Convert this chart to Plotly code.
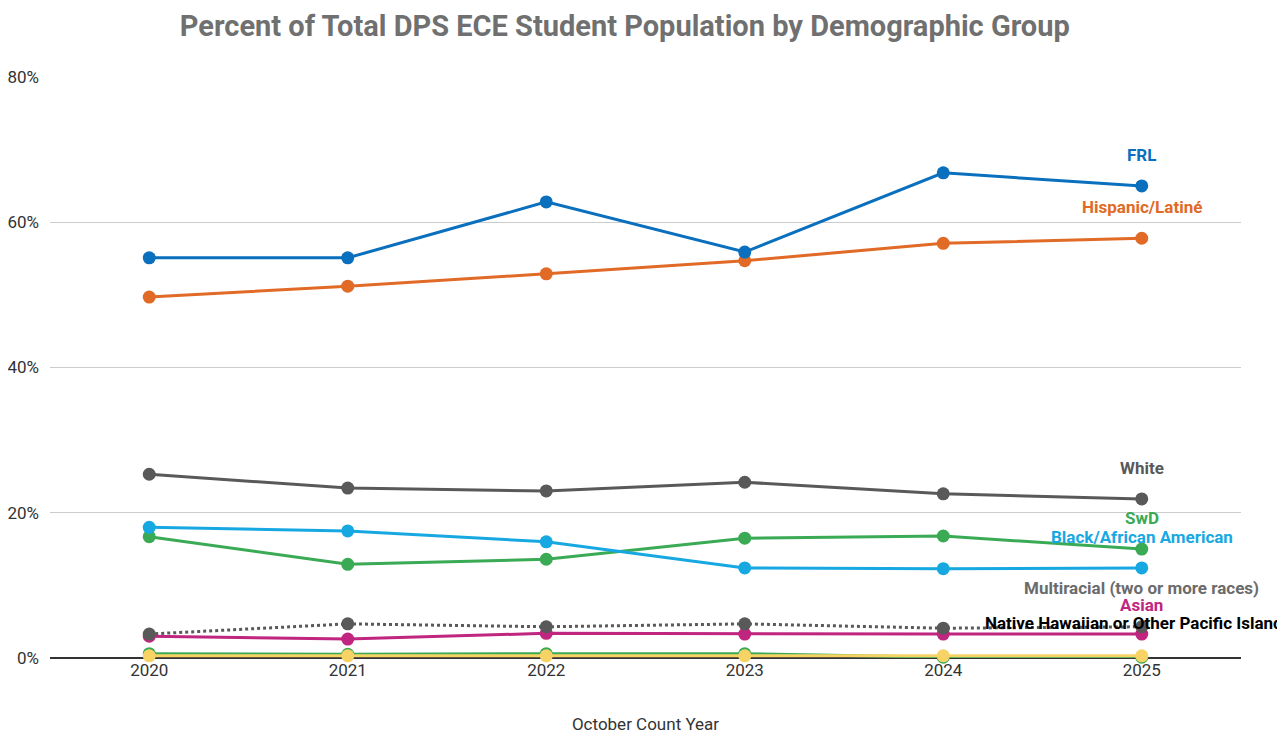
import plotly.graph_objects as go

years = [2020, 2021, 2022, 2023, 2024, 2025]

frl = [55.1, 55.1, 62.8, 55.9, 66.8, 65.0]
hispanic = [49.7, 51.2, 52.9, 54.7, 57.1, 57.8]
white = [25.3, 23.4, 23.0, 24.2, 22.6, 21.9]
black = [18.0, 17.5, 16.0, 12.4, 12.3, 12.4]
swd = [16.7, 12.9, 13.6, 16.5, 16.8, 15.0]
multiracial = [3.3, 4.7, 4.3, 4.7, 4.1, 4.3]
asian = [3.0, 2.6, 3.4, 3.3, 3.3, 3.3]
am_indian = [0.6, 0.5, 0.6, 0.6, 0.1, 0.1]
nhpi = [0.3, 0.3, 0.3, 0.3, 0.3, 0.3]

y_ticks = [0, 20, 40, 60, 80]
y_tick_labels = ["0%", "20%", "40%", "60%", "80%"]

# name, values, line colour, label colour, dash, label shift in px (None = no label)
series = [
    ("American Indian or Alaska Native", am_indian, "#3aaa55", "#3aaa55", "solid", None),
    ("Native Hawaiian or Other Pacific Islander", nhpi, "#f7d366", "#000000", "solid", 33),
    ("Asian", asian, "#c0257f", "#c0257f", "solid", 29),
    ("Multiracial (two or more races)", multiracial, "#595959", "#6b6b6b", "dot", 39),
    ("SwD", swd, "#3aaa55", "#3aaa55", "solid", 31),
    ("Black/African American", black, "#17a8e2", "#17a8e2", "solid", 31),
    ("White", white, "#595959", "#595959", "solid", 31),
    ("Hispanic/Latiné", hispanic, "#e06a26", "#e06a26", "solid", 31),
    ("FRL", frl, "#0a6fbd", "#0a6fbd", "solid", 31),
]

fig = go.Figure()
for name, vals, color, lcolor, dash, shift in series:
    fig.add_trace(go.Scatter(
        x=years, y=vals, name=name, mode="lines+markers",
        line=dict(color=color, width=3, dash=dash),
        marker=dict(color=color, size=13),
        cliponaxis=False, showlegend=False,
    ))
    if shift is None:
        continue
    fig.add_annotation(
        x=years[-1], y=vals[-1], text=f"<b>{name}</b>", showarrow=False,
        yshift=shift, xanchor="center", yanchor="middle",
        font=dict(family="Roboto", size=17, color=lcolor),
    )

fig.update_layout(
    width=1285, height=732,
    margin=dict(l=42, r=52, t=69, b=82, autoexpand=False),
    paper_bgcolor="white", plot_bgcolor="white",
    font=dict(family="Roboto", size=17, color="#333333"),
    title=dict(
        text="<b>Percent of Total DPS ECE Student Population by Demographic Group</b>",
        x=0.48, xanchor="center", y=0.976, yanchor="middle",
        font=dict(family="Roboto", size=29, color="#707070"),
    ),
    xaxis=dict(
        range=[2019.5, 2025.5], tickvals=years, ticks="", showgrid=False,
        zeroline=False, showline=False, automargin=False,
        title=dict(text="October Count Year", standoff=39, font=dict(size=17, color="#333333")),
        tickfont=dict(size=17, color="#333333"),
    ),
    yaxis=dict(
        range=[0, 80], tickvals=y_ticks, ticktext=y_tick_labels,
        showgrid=True, gridcolor="#cccccc", gridwidth=1, automargin=False,
        zeroline=True, zerolinecolor="#333333", zerolinewidth=1.5,
        ticks="", ticklabelstandoff=10, tickfont=dict(size=17, color="#333333"),
    ),
)

fig.write_html("out.html")
